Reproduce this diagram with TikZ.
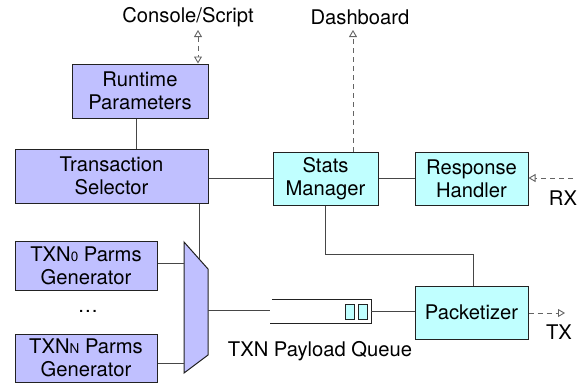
\documentclass[tikz,border=0pt]{standalone}
\usepackage{fontspec}
\setmainfont{TeX Gyre Heros}
\usetikzlibrary{arrows.meta,calc}
\definecolor{lav}{RGB}{192,192,255}
\definecolor{aqua}{RGB}{192,255,255}
\definecolor{edge}{RGB}{34,34,34}
\definecolor{wire}{RGB}{70,70,70}
\definecolor{dashc}{RGB}{100,100,100}
\newcommand{\sml}[1]{{\fontsize{13.5}{13.5}\selectfont #1}}
\begin{document}
\begin{tikzpicture}[x=1pt,y=-1pt,
  every node/.style={font=\fontsize{20.2}{23}\selectfont, text=black},
  blockbase/.style={draw=edge, line width=1pt, align=center, inner sep=0pt},
  lavbox/.style={blockbase, fill=lav},
  aquabox/.style={blockbase, fill=aqua},
  wireline/.style={draw=wire, line width=0.9pt},
  dashline/.style={draw=dashc, line width=0.9pt, dash pattern=on 5pt off 4pt},
  opentip/.style={-{Triangle[open, length=7pt, width=8pt, fill=white]}},
  label/.style={inner sep=0pt}]
\useasboundingbox (0,0) rectangle (587,383);

% blocks
\node[lavbox, minimum width=136pt, minimum height=54pt] (rt) at (140,91) {Runtime\\Parameters};
\node[lavbox, minimum width=193pt, minimum height=54pt] (sel) at (111.5,176) {Transaction\\Selector};
\node[lavbox, minimum width=142pt, minimum height=49pt] (t0) at (86,265.5) {TXN\sml{0} Parms\\Generator};
\node[lavbox, minimum width=142pt, minimum height=48pt] (tn) at (86,358) {TXN\sml{N} Parms\\Generator};
\node[aquabox, minimum width=105pt, minimum height=53pt] (stats) at (325.5,178.5) {Stats\\Manager};
\node[aquabox, minimum width=113pt, minimum height=53pt] (resp) at (471.5,178.5) {Response\\Handler};
\node[aquabox, minimum width=113pt, minimum height=53pt] (pk) at (471.5,312.5) {Packetizer};

% multiplexer
\coordinate (mtl) at (184,242);
\coordinate (mtr) at (208,269);
\coordinate (mbr) at (208,355);
\coordinate (mbl) at (184,373);
\coordinate (mout) at (208,310);
\filldraw[fill=lav, draw=edge, line width=1pt] (mtl) -- (mtr) -- (mbr) -- (mbl) -- cycle;
\coordinate (msel) at ($(mtl)!0.625!(mtr)$);

% payload queue
\node[minimum width=101pt, minimum height=23pt, inner sep=0pt] (q) at (320.5,311.5) {};
\draw[draw=edge, line width=0.9pt] ([xshift=2pt]q.north west) -- (q.north east) -- (q.south east) -- (q.south west);
\node[aquabox, line width=0.8pt, minimum width=9pt, minimum height=15pt] (s1) at (349.5,311.5) {};
\node[aquabox, line width=0.8pt, minimum width=9pt, minimum height=15pt] (s2) at (362.5,311.5) {};

% text labels
\node[label] (console) at (188,17) {Console/Script};
\node[label] (dash) at (360,17) {Dashboard};
\node[label] (rx) at (563,198) {RX};
\node[label] (tx) at (559,332) {TX};
\node[label] (dots) at (88,311) {\ldots};
\node[label] (qlabel) at (320,351) {TXN Payload Queue};

% external endpoints
\coordinate (consoleend) at (198,30);
\coordinate (dashend) at (353,30);
\coordinate (rxsrc) at (573,178);
\coordinate (txend) at (565,313);
\coordinate (bendy) at (0,254);

% solid connections
\draw[wireline] ([xshift=-4pt]rt.south) -- ([xshift=-4pt]rt.south |- sel.north);
\draw[wireline] (stats.west -| sel.east) -- (stats.west);
\draw[wireline] (stats.east) -- (resp.west);
\draw[wireline] (msel |- sel.south) -- (msel);
\draw[wireline] ([yshift=2.5pt]t0.east) -- ([yshift=2.5pt]t0.east -| mtl);
\draw[wireline] ([yshift=-5pt]tn.east) -- ([yshift=-5pt]tn.east -| mtl);
\draw[wireline] (mout) -- (mout -| q.west);
\draw[wireline] (q.east) -- (q.east -| pk.west);
\draw[wireline] (stats.south) |- ([xshift=1.5pt]pk.north |- bendy) -- ([xshift=1.5pt]pk.north);

% dashed external links
\draw[dashline, {Triangle[open, length=7pt, width=8pt, fill=white]}-{Triangle[open, length=7pt, width=8pt, fill=white]}] (consoleend) -- (consoleend |- rt.north);
\draw[dashline, opentip] ([xshift=27.5pt]stats.north) -- (dashend);
\draw[dashline, opentip] (rxsrc) -- (resp.east |- rxsrc);
\draw[dashline, opentip] (pk.east |- txend) -- (txend);
\end{tikzpicture}
\end{document}
